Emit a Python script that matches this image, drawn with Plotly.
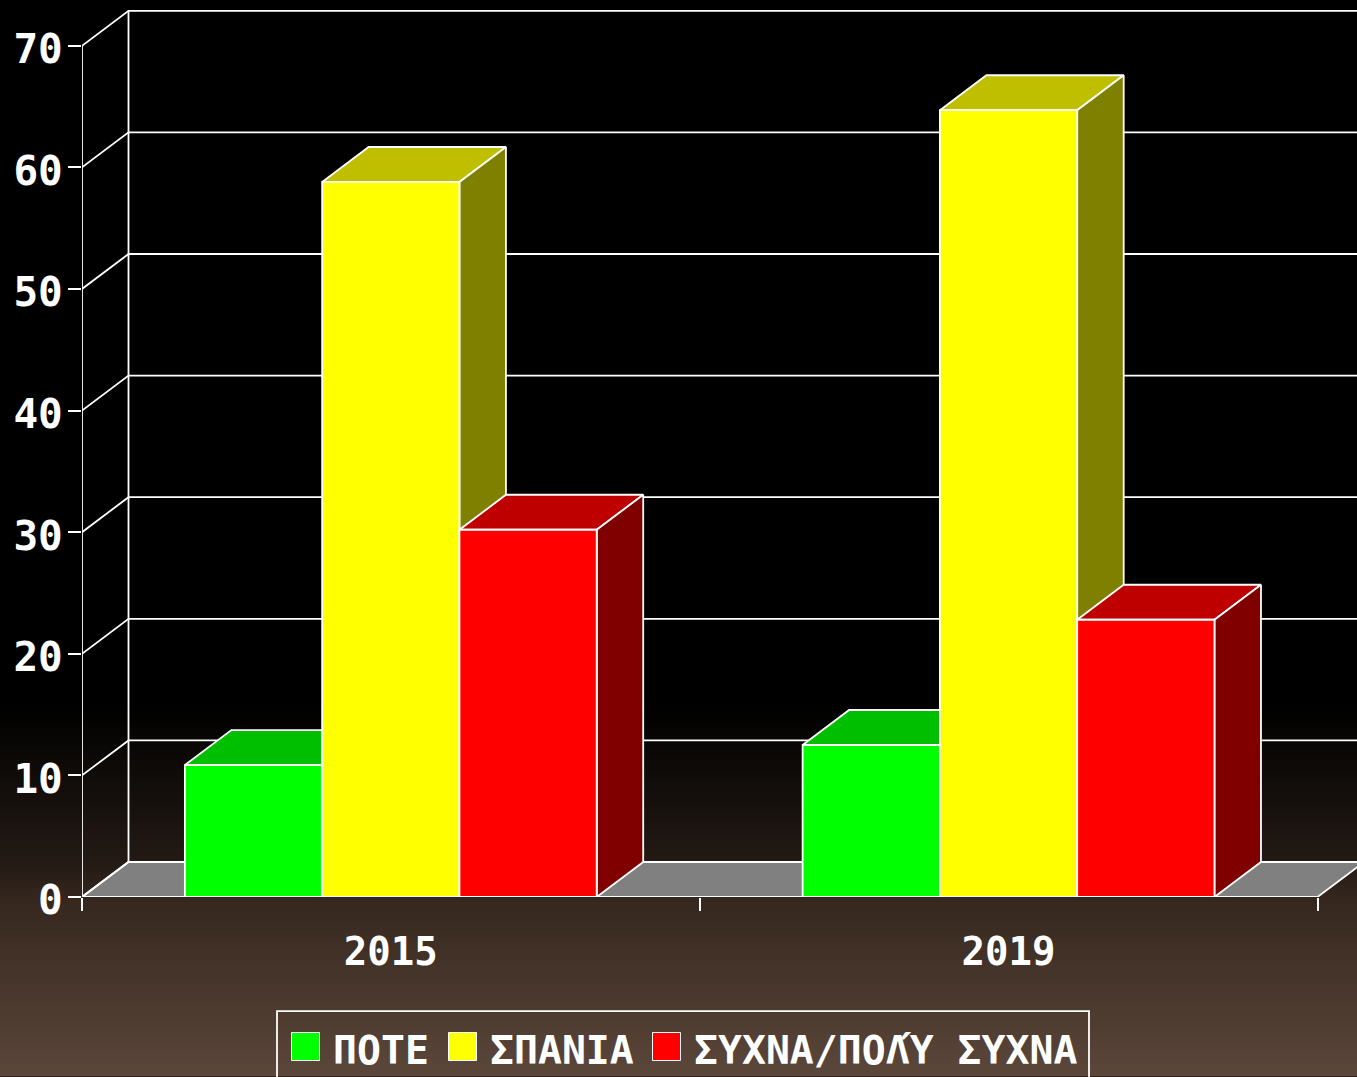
import base64, struct, zlib
import numpy as np
import plotly.graph_objects as go

# ---- data ----
categories = ["2015", "2019"]
series_names = ["ΠΟΤΕ", "ΣΠΑΝΙΑ", "ΣΥΧΝΑ/ΠΟΛΎ ΣΥΧΝΑ"]
pote = [10.85, 12.5]
spania = [58.8, 64.7]
sychna = [30.2, 22.8]
y_ticks = [0, 10, 20, 30, 40, 50, 60, 70]

# ---- style ----
W, H = 1357, 1077
L, T = 82.0, 5.0
Y0_PX = 897.4
PX_PER_UNIT = 12.166
CAT_PX = 617.75
CAT0_PX = 390.8
DEPTH_X = 46.5 / CAT_PX
DEPTH_Y = 35 / PX_PER_UNIT
BAR_W = 2 / 9
FONT = "DejaVu Sans Mono"
LW = 1.8
series_values = [pote, spania, sychna]
front_colors = ["#00ff00", "#ffff00", "#ff0000"]
top_colors = ["#00bf00", "#bfbf00", "#bf0000"]
side_colors = ["#008000", "#808000", "#800000"]

x_min = (L - CAT0_PX) / CAT_PX
x_max = (W - CAT0_PX) / CAT_PX
x_end = x_min + 2
y_max = (Y0_PX - T) / PX_PER_UNIT


def px(x):
    return (x - L) / (W - L)


def py(y):
    return (Y0_PX - y) / (Y0_PX - T)


# gradient backdrop as a 1-pixel-wide PNG
stops_y = [0, 700, 760, 860, 900, 1077]
stops_r = [0, 0, 13, 35, 54, 92]
stops_g = [0, 0, 10, 26, 40, 71]
stops_b = [0, 0, 8, 21, 31, 59]
rows = np.arange(H)
rgb = np.stack([np.interp(rows, stops_y, c) for c in (stops_r, stops_g, stops_b)], axis=1).astype(np.uint8)
raw = b"".join(b"\x00" + r.tobytes() for r in rgb)


def chunk(tag, data):
    return struct.pack(">I", len(data)) + tag + data + struct.pack(">I", zlib.crc32(tag + data))


png = (b"\x89PNG\r\n\x1a\n" + chunk(b"IHDR", struct.pack(">IIBBBBB", 1, H, 8, 2, 0, 0, 0))
       + chunk(b"IDAT", zlib.compress(raw)) + chunk(b"IEND", b""))
bg_uri = "data:image/png;base64," + base64.b64encode(png).decode()

fig = go.Figure()
line = dict(color="white", width=LW)


def poly(xs, ys, fill, name="", width=LW):
    fig.add_trace(go.Scatter(x=xs, y=ys, mode="lines", fill="toself", fillcolor=fill,
                             line=dict(color="white", width=width), hoverinfo="skip",
                             showlegend=False, cliponaxis=False, name=name))


# floor
poly([x_min, x_end, x_end + DEPTH_X, x_min + DEPTH_X, x_min], [0, 0, DEPTH_Y, DEPTH_Y, 0], "#808080", "floor")

# walls
for v in y_ticks:
    fig.add_trace(go.Scatter(x=[x_min, x_min + DEPTH_X, x_max], y=[v, v + DEPTH_Y, v + DEPTH_Y],
                             mode="lines", line=line, hoverinfo="skip", showlegend=False, cliponaxis=False))
fig.add_trace(go.Scatter(x=[x_min + DEPTH_X] * 2, y=[DEPTH_Y, y_ticks[-1] + DEPTH_Y], mode="lines", line=line,
                         hoverinfo="skip", showlegend=False, cliponaxis=False))
fig.add_trace(go.Scatter(x=[x_min] * 2, y=[y_ticks[0], y_ticks[-1]], mode="lines", line=line,
                         hoverinfo="skip", showlegend=False, cliponaxis=False))

# depth faces, painted in series order beneath the front faces
for s, vals in enumerate(series_values):
    off = (s - 1) * BAR_W
    for c, v in enumerate(vals):
        x0, x1 = c + off - BAR_W / 2, c + off + BAR_W / 2
        poly([x0, x1, x1 + DEPTH_X, x0 + DEPTH_X, x0], [v, v, v + DEPTH_Y, v + DEPTH_Y, v], top_colors[s])
        poly([x1, x1 + DEPTH_X, x1 + DEPTH_X, x1, x1], [0, DEPTH_Y, v + DEPTH_Y, v, 0], side_colors[s])

# front faces on the overlaying subplot
cat_pos = list(range(len(categories)))
for s, vals in enumerate(series_values):
    fig.add_trace(go.Bar(x=cat_pos, y=vals, name=series_names[s], xaxis="x2", yaxis="y2",
                         marker=dict(color=front_colors[s], line=dict(color="white", width=LW)),
                         showlegend=False))

tick_font = dict(family=FONT, size=39, color="white", weight="bold")
fig.update_layout(
    width=W, height=H, autosize=False,
    margin=dict(l=L, r=0, t=T, b=H - Y0_PX, pad=0),
    paper_bgcolor="black", plot_bgcolor="rgba(0,0,0,0)",
    barmode="group", bargap=1 / 3, bargroupgap=0,
    font=dict(family=FONT, color="white"),
    xaxis=dict(range=[x_min, x_max], tickmode="array", tickvals=[x_min, x_min + 1, x_min + 2],
               ticktext=["", "", ""], ticks="outside", ticklen=13, tickwidth=LW, tickcolor="white",
               showgrid=False, zeroline=False, showline=False),
    xaxis2=dict(range=[x_min, x_max], overlaying="x", anchor="y2", side="bottom", tickmode="array",
                tickvals=cat_pos, ticktext=categories, ticks="", ticklabelstandoff=28, tickfont=tick_font,
                showgrid=False, zeroline=False, showline=False),
    yaxis=dict(range=[0, y_max], tickmode="array", tickvals=y_ticks, ticks="outside", ticklen=13,
               tickwidth=LW, tickcolor="white", showline=False,
               showgrid=False, zeroline=False, tickfont=dict(family=FONT, size=41, color="white", weight="bold"),
               ticklabelstandoff=-3, ticklabelshift=3),
    yaxis2=dict(range=[0, y_max], overlaying="y", anchor="x2", visible=False),
    images=[dict(source=bg_uri, xref="paper", yref="paper", x=px(0), y=py(0), sizex=px(W) - px(0),
                 sizey=py(0) - py(H), sizing="stretch", layer="below", xanchor="left", yanchor="top")],
)

# axis base line and legend
shapes = [dict(type="line", xref="x", yref="y", x0=x_min, x1=x_end, y0=0, y1=0, line=line, layer="above")]
shapes.append(dict(type="rect", xref="paper", yref="paper", x0=px(277), x1=px(1089), y0=py(1011.5), y1=py(1090),
                   line=line, fillcolor="rgba(0,0,0,0)"))
annotations = []
swatch_x = [291.5, 448.5, 652.5]
text_x = [331, 488, 692]
for s, name in enumerate(series_names):
    shapes.append(dict(type="rect", xref="paper", yref="paper", x0=px(swatch_x[s]), x1=px(swatch_x[s] + 28),
                       y0=py(1033), y1=py(1061), fillcolor=front_colors[s], line=dict(color="white", width=1)))
    annotations.append(dict(text=name, xref="paper", yref="paper", x=px(text_x[s]), y=py(1050), xanchor="left",
                            yanchor="middle", showarrow=False, xshift=0,
                            font=dict(family=FONT, size=39.8, color="white", weight="bold")))
fig.update_layout(shapes=shapes, annotations=annotations)

fig.write_html("out.html", config=dict(displayModeBar=False),
               post_script="document.body.style.margin='0';document.documentElement.style.overflow='hidden';")
